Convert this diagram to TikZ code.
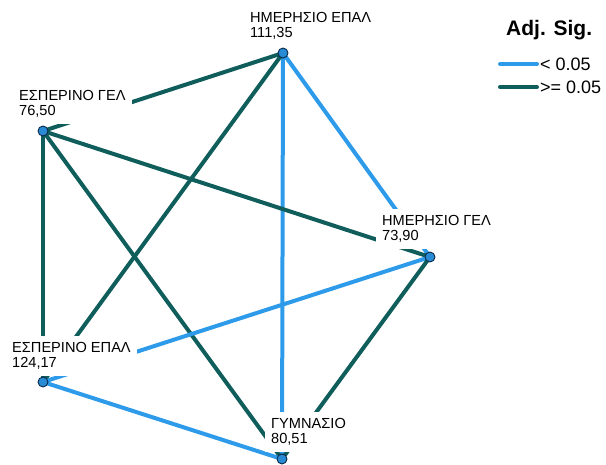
\documentclass[tikz,border=0pt]{standalone}
\usepackage{fontspec}
\setmainfont{Liberation Sans}
\usetikzlibrary{backgrounds}
\definecolor{sigblue}{HTML}{2E9BEA}
\definecolor{nsteal}{HTML}{0F5E5B}
\definecolor{dotline}{HTML}{0B2A4A}
\tikzstyle{group} = [circle, minimum size=10pt, inner sep=0pt, draw=dotline,
line width=0.9pt, fill=sigblue!90!black]
\tikzstyle{grouplabel} = [anchor=north west, align=left, fill=white, inner
sep=6pt, font=\fontsize{14.6}{15.5}\selectfont]
\tikzstyle{sig} = [line width=4pt, draw=sigblue]
\tikzstyle{nonsig} = [line width=4pt, draw=nsteal]
\begin{document}
\begin{tikzpicture}[x=1pt,y=-1pt]
              \useasboundingbox (0,0) rectangle (606,465);
              \node(l1) [grouplabel] at (244,6) {ΗΜΕΡΗΣΙΟ ΕΠΑΛ\\111,35};
              \node(l2) [grouplabel] at (13,84) {ΕΣΠΕΡΙΝΟ ΓΕΛ\\76,50};
              \node(l3) [grouplabel] at (376,209) {ΗΜΕΡΗΣΙΟ ΓΕΛ\\73,90};
              \node(l4) [grouplabel] at (6,336) {ΕΣΠΕΡΙΝΟ ΕΠΑΛ\\124,17};
              \node(l5) [grouplabel] at (265,412) {ΓΥΜΝΑΣΙΟ\\80,51};

              \node(hepal) [group] at (283,53) {};
              \node(egel) [group] at (43,131) {};
              \node(hgel) [group] at (430,257) {};
              \node(eepal) [group] at (43,382) {};
              \node(gym) [group] at (282,459) {};

              \begin{pgfonlayer}{background}
              \draw [nonsig] (hepal.center) -- (egel.center);
              \draw [sig] (hepal.center) -- (hgel.center);
              \draw [sig] (hepal.center) -- (gym.center);
              \draw [nonsig] (hepal.center) -- (eepal.center);
              \draw [nonsig] (egel.center) -- (hgel.center);
              \draw [nonsig] (egel.center) -- (eepal.center);
              \draw [nonsig] (egel.center) -- (gym.center);
              \draw [sig] (hgel.center) -- (eepal.center);
              \draw [nonsig] (hgel.center) -- (gym.center);
              \draw [sig] (eepal.center) -- (gym.center);
              \end{pgfonlayer}

              \node(title) [anchor=base west, inner sep=0pt,
              font=\fontsize{21}{24}\selectfont\bfseries] at (506,36) {Adj. Sig.};
              \coordinate (a1) at (500,64);
              \coordinate (b1) at (537,64);
              \coordinate (a2) at (500,87);
              \coordinate (b2) at (537,87);
              \draw [sig, line cap=round] (a1) -- (b1);
              \draw [nonsig, line cap=round] (a2) -- (b2);
              \node(k1) [anchor=west, inner sep=1pt,
              font=\fontsize{18}{20}\selectfont] at (539,64) {< 0.05};
              \node(k2) [anchor=west, inner sep=1pt,
              font=\fontsize{18}{20}\selectfont] at (539,87) {>= 0.05};
            \end{tikzpicture}
\end{document}
